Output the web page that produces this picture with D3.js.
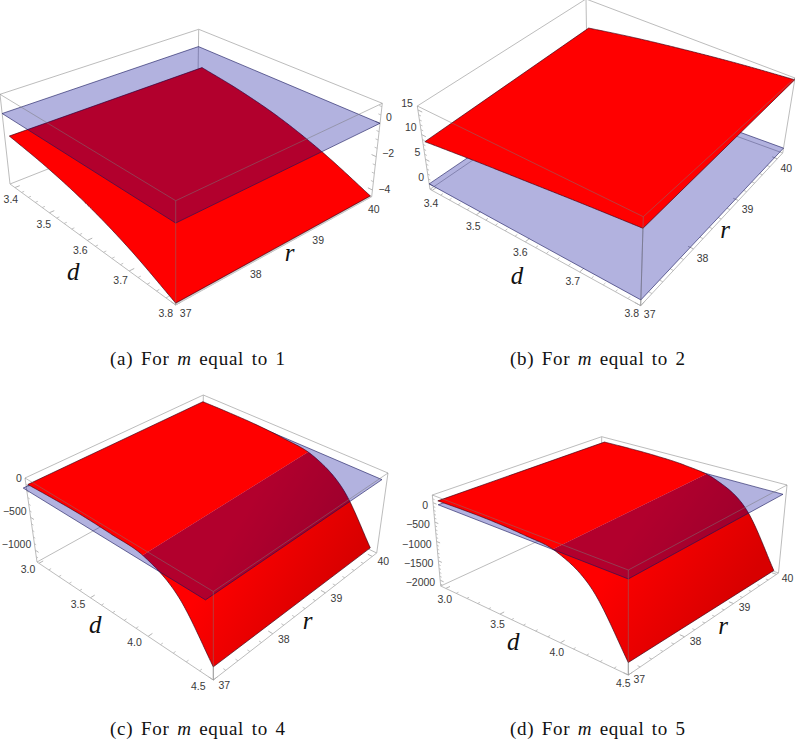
<!DOCTYPE html>
<html>
<head>
<meta charset="utf-8">
<script src="https://cdn.jsdelivr.net/npm/d3@7"></script>
<style>
  html, body { margin: 0; padding: 0; background: #fff; }
  svg { display: block; }
</style>
</head>
<body>
<div id="chart"></div>
<script>
const width = 795;
const height = 740;

// surface heights, z at each d along the two r edges
const dSamplesA = [3.4, 3.5, 3.6, 3.7, 3.8];
const zA37 = [-1.2, -1.6, -2.2, -3.1, -4.3];
const zA40 = [-1.25, -1.65, -2.25, -3.15, -4.3];
const dTicksA = [3.4, 3.5, 3.6, 3.7, 3.8];
const zTicksA = [0, -2, -4];

const dSamplesB = [3.4, 3.5, 3.6, 3.7, 3.8];
const zB37 = [8.8, 10.1, 11.3, 12.5, 13.6];
const zB40 = [10.05, 11.6, 13, 14.3, 15.4];
const dTicksB = [3.4, 3.5, 3.6, 3.7, 3.8];
const zTicksB = [0, 5, 10, 15];

const dSamplesC = [3, 3.25, 3.5, 3.75, 4, 4.25, 4.5];
const zC37 = [20, 40, 50, 35, 0, -280, -990];
const zC40 = [20, 40, 50, 35, -25, -320, -1000];
const dTicksC = [3, 3.5, 4, 4.5];
const zTicksC = [0, -500, -1000];

const dSamplesD = [3, 3.25, 3.5, 3.75, 4, 4.25, 4.5];
const zD37 = [100, 120, 120, 80, -20, -550, -1870];
const zD40 = [100, 120, 120, 80, -70, -610, -1990];
const dTicksD = [3, 3.5, 4, 4.5];
const zTicksD = [0, -500, -1000, -1500, -2000];

const rTicks = [37, 38, 39, 40];

const captions = [
  ['(a) For ', 'm', ' equal to 1'],
  ['(b) For ', 'm', ' equal to 2'],
  ['(c) For ', 'm', ' equal to 4'],
  ['(d) For ', 'm', ' equal to 5']
];

// layout of each panel: box corners on the page, L/B/R/F = left/back/right/front
// rEdge: where the r = 37 edge sits, then the r = 40 edge at its back and its front end
const panels = [
  {
    ds: dSamplesA, z37: zA37, z40: zA40, dTicks: dTicksA, zTicks: zTicksA, caption: captions[0],
    top: { L: [0, 94.3], B: [198.7, 29.3], R: [382.3, 103.3], F: [175.7, 200.7] },
    bot: { L: [10, 184], B: [197.5, 110], R: [371.7, 196.7], F: [175.7, 305] },
    dDomain: [3.385, 3.8], rDomain: [37, 40.15], zDomain: [-4.4, 1.2], rEdge: [37, 40.12, 40.12],
    plane: { d: [3.385, 3.8], r: [37, 40.15] }, underside: '#cfcfcf',
    dMinor: 0.02, rMinor: 0.2, zMinor: 0.5, zSide: 'right',
    dOff: [[-4, 13], [-10, 9]], rOff: [10, 9], zDx: 6, zDy: [-7, 1],
    dLabel: [-11, 42], rLabel: [7, 15], captionX: 110, captionY: 365
  },
  {
    ds: dSamplesB, z37: zB37, z40: zB40, dTicks: dTicksB, zTicks: zTicksB, caption: captions[1],
    top: { L: [417.3, 106], B: [586, -1], R: [795, 78], F: [643.3, 216.7] },
    bot: { L: [430, 189.3], B: [587.3, 82], R: [782.7, 153], F: [640.7, 305.7] },
    dDomain: [3.395, 3.8], rDomain: [37, 40.15], zDomain: [-1.1, 15.8], rEdge: [37, 40.15, 40.15],
    plane: { d: [3.395, 3.8], r: [37, 40.15] },
    dMinor: 0.02, rMinor: 0.2, zMinor: 1, zSide: 'left',
    dOff: [[-1, 14], [-9, 9]], rOff: [9, 10], zDx: -5, zDy: [-6, -6],
    dLabel: [-7, 43], rLabel: [5, 18], captionX: 510, captionY: 365
  },
  {
    ds: dSamplesC, z37: zC37, z40: zC40, dTicks: dTicksC, zTicks: zTicksC, caption: captions[2],
    top: { L: [25, 478], B: [203.3, 395], R: [388, 473], F: [213.3, 591.5] },
    bot: { L: [37, 562], B: [203, 470], R: [376.7, 553], F: [213.3, 680] },
    dDomain: [2.98, 4.5], rDomain: [37, 40.1], zDomain: [-1180, 100], rEdge: [37, 40.05, 39.92],
    plane: { d: [3, 4.48], r: [36.93, 40.05] },
    dMinor: 0.1, rMinor: 0.2, zMinor: 100, zSide: 'left',
    dOff: [[-11, 7], [-15, 7]], rOff: [11, 6], zDx: -4, zDy: [-5, -5],
    dLabel: [-22, 17], rLabel: [5, 18], captionX: 110, captionY: 735,
    shade: [[200, 590], [300, 650]]
  },
  {
    ds: dSamplesD, z37: zD37, z40: zD40, dTicks: dTicksD, zTicks: zTicksD, caption: captions[3],
    top: { L: [432.3, 495], B: [601.7, 436.7], R: [787, 485], F: [628.3, 570] },
    bot: { L: [440.7, 586], B: [601, 512], R: [778.5, 573], F: [628.3, 675] },
    dDomain: [2.95, 4.5], rDomain: [37, 40.05], zDomain: [-2150, 200], rEdge: [37, 40, 39.92],
    plane: { d: [3, 4.5], r: [37, 39.97] },
    dMinor: 0.1, rMinor: 0.2, zMinor: 100, zSide: 'left',
    dOff: [[-1, 12], [-5, 9]], rOff: [11, 5], zDx: -5, zDy: [3.5, 3.5],
    dLabel: [-13, 23], rLabel: [12, 15], captionX: 510, captionY: 735,
    shade: [[600, 580], [700, 650]]
  }
];

const boxColor = '#b4b4b4';
const overColor = 'rgba(120,120,120,0.55)';
const redColor = '#ff0000';
const edgeColor = 'rgba(60,0,20,0.75)';
const planeFill = 'rgb(0,0,150)';
const planeOpacity = 0.3;
const labelColor = '#3a3a3a';

const svg = d3.select('#chart').append('svg')
  .attr('width', width)
  .attr('height', height)
  .attr('viewBox', `0 0 ${width} ${height}`);
const defs = svg.append('defs');

const lineGen = d3.line();

// unit square to quad, (0,0)=L (1,0)=F (1,1)=R (0,1)=B
function quadMap(q) {
  const [x0, y0] = q.L, [x1, y1] = q.F, [x2, y2] = q.R, [x3, y3] = q.B;
  const dx1 = x1 - x2, dx2 = x3 - x2, sx = x0 - x1 + x2 - x3;
  const dy1 = y1 - y2, dy2 = y3 - y2, sy = y0 - y1 + y2 - y3;
  const det = dx1 * dy2 - dx2 * dy1;
  const g = (sx * dy2 - dx2 * sy) / det;
  const h = (dx1 * sy - sx * dy1) / det;
  const a = x1 - x0 + g * x1, b = x3 - x0 + h * x3;
  const d = y1 - y0 + g * y1, e = y3 - y0 + h * y3;
  return (u, v) => {
    const w = g * u + h * v + 1;
    return [(a * u + b * v + x0) / w, (d * u + e * v + y0) / w];
  };
}

// smooth curve through the read values, only used to draw the edge
function curveThrough(ds, zs) {
  const toIndex = d3.scaleLinear().domain([ds[0], ds[ds.length - 1]]).range([0, ds.length - 1]);
  const n = zs.length;
  return d => {
    const t = toIndex(d);
    const i = Math.min(Math.floor(t), n - 2);
    const f = t - i;
    const p1 = zs[i], p2 = zs[i + 1];
    const p0 = i > 0 ? zs[i - 1] : 2 * p1 - p2;
    const p3 = i < n - 2 ? zs[i + 2] : 2 * p2 - p1;
    return 0.5 * (2 * p1 + (p2 - p0) * f + (2 * p0 - 5 * p1 + 4 * p2 - p3) * f * f + (3 * p1 - p0 - 3 * p2 + p3) * f * f * f);
  };
}

panels.forEach((p, idx) => {
  const g = svg.append('g').attr('class', `panel-${idx}`);
  const dScale = d3.scaleLinear().domain(p.dDomain).range([0, 1]);
  const rScale = d3.scaleLinear().domain(p.rDomain).range([0, 1]);
  const zScale = d3.scaleLinear().domain(p.zDomain).range([0, 1]);
  const topMap = quadMap(p.top);
  const botMap = quadMap(p.bot);

  const project = (d, r, z) => {
    const a = botMap(dScale(d), rScale(r));
    const b = topMap(dScale(d), rScale(r));
    const t = zScale(z);
    return [a[0] + (b[0] - a[0]) * t, a[1] + (b[1] - a[1]) * t];
  };

  const [d0, d1] = p.dDomain;
  const [r0, r1] = p.rDomain;
  const [zLo, zHi] = p.zDomain;

  const drawEdge = (pts, color, w = 0.9) => g.append('path')
    .attr('d', lineGen(pts))
    .attr('fill', 'none')
    .attr('stroke', color)
    .attr('stroke-width', w);

  // box edges behind the surfaces
  [
    [[d0, r0, zLo], [d1, r0, zLo]], [[d1, r0, zLo], [d1, r1, zLo]],
    [[d1, r1, zLo], [d0, r1, zLo]], [[d0, r1, zLo], [d0, r0, zLo]],
    [[d0, r0, zLo], [d0, r0, zHi]], [[d0, r1, zLo], [d0, r1, zHi]],
    [[d1, r1, zLo], [d1, r1, zHi]], [[d1, r0, zLo], [d1, r0, zHi]],
    [[d0, r0, zHi], [d0, r1, zHi]], [[d0, r1, zHi], [d1, r1, zHi]]
  ].forEach(e => drawEdge(e.map(c => project(...c)), boxColor));

  // ticks
  const tickLine = (from, to, major) => drawEdge([project(...from), project(...to)], boxColor, major ? 1 : 0.8);
  const dTickAll = d3.range(p.dTicks[0], d1 + 1e-6, p.dMinor);
  dTickAll.forEach(d => {
    const major = p.dTicks.some(t => Math.abs(t - d) < 1e-6);
    const len = (r1 - r0) * (major ? 0.022 : 0.012);
    tickLine([d, r0, zLo], [d, r0 + len, zLo], major);
  });
  d3.range(rTicks[0], r1 + 1e-6, p.rMinor).forEach(r => {
    const major = rTicks.some(t => Math.abs(t - r) < 1e-6);
    const len = (d1 - d0) * (major ? 0.022 : 0.012);
    tickLine([d1, r, zLo], [d1 - len, r, zLo], major);
  });
  const zCorner = p.zSide === 'right' ? [d1, r1] : [d0, r0];
  const zInward = p.zSide === 'right' ? -1 : 1;
  d3.range(Math.ceil(zLo / p.zMinor) * p.zMinor, zHi, p.zMinor).forEach(z => {
    const major = p.zTicks.some(t => Math.abs(t - z) < 1e-6);
    const len = (d1 - d0) * (major ? 0.022 : 0.012) * zInward;
    tickLine([zCorner[0], zCorner[1], z], [zCorner[0] + len, zCorner[1], z], major);
  });

  // surface sampled along both r edges, split where it passes through the plane
  const curve37 = curveThrough(p.ds, p.z37);
  const curve40 = curveThrough(p.ds, p.z40);
  const dFirst = p.ds[0], dLast = p.ds[p.ds.length - 1];
  const dLine = d3.range(0, 161).map(i => dFirst + (dLast - dFirst) * i / 160);
  const sideA = dLine.map(d => ({ d, z: curve37(d) }));
  const sideB = dLine.map(d => ({ d, z: curve40(d) }));
  // lower part keeps one extra sample so no seam opens under the upper part
  const lowerOf = side => side.filter((s, i) => s.z < 0 || (side[i + 1] && side[i + 1].z < 0));
  const belowA = lowerOf(sideA), belowB = lowerOf(sideB);
  const aboveA = sideA.filter(s => s.z >= 0), aboveB = sideB.filter(s => s.z >= 0);
  const rFar = d3.scaleLinear().domain([dFirst, dLast]).range([p.rEdge[1], p.rEdge[2]]);

  const piece = (a, b, fill, closed) => {
    if (!a.length) return;
    const pa = a.map(s => project(s.d, p.rEdge[0], s.z));
    const pb = b.map(s => project(s.d, rFar(s.d), s.z)).reverse();
    g.append('path')
      .attr('d', lineGen(pa.concat(pb)) + 'Z')
      .attr('fill', fill);
    const outline = a[0].d === dFirst && !closed ? pa.slice().reverse().concat(pb.slice().reverse()) : pa.concat(pb);
    drawEdge(closed ? pa.concat(pb).concat([pa[0]]) : outline, edgeColor, 0.9);
  };

  // sliver of the underside showing along the bottom of the box
  if (p.underside) {
    const endA = sideA[sideA.length - 1], endB = sideB[sideB.length - 1];
    g.append('path')
      .attr('d', lineGen([
        project(endA.d, p.rEdge[0], endA.z),
        project(endB.d, p.rEdge[2], endB.z),
        project(d1, r1, zLo),
        project(d1, r0, zLo)
      ]) + 'Z')
      .attr('fill', p.underside);
  }

  let lowerFill = redColor;
  if (p.shade) {
    const id = `shade-${idx}`;
    const grad = defs.append('linearGradient').attr('id', id)
      .attr('gradientUnits', 'userSpaceOnUse')
      .attr('x1', p.shade[0][0]).attr('y1', p.shade[0][1])
      .attr('x2', p.shade[1][0]).attr('y2', p.shade[1][1]);
    grad.append('stop').attr('offset', '0%').attr('stop-color', '#ff0000');
    grad.append('stop').attr('offset', '100%').attr('stop-color', '#d80000');
    lowerFill = `url(#${id})`;
  }

  piece(belowA, belowB, lowerFill, !aboveA.length);

  // the z = 0 plane
  const planePts = [
    project(p.plane.d[0], p.plane.r[0], 0),
    project(p.plane.d[1], p.plane.r[0], 0),
    project(p.plane.d[1], p.plane.r[1], 0),
    project(p.plane.d[0], p.plane.r[1], 0)
  ];
  g.append('path')
    .attr('d', lineGen(planePts) + 'Z')
    .attr('fill', planeFill)
    .attr('fill-opacity', planeOpacity)
    .attr('stroke', 'rgba(20,20,90,0.75)')
    .attr('stroke-width', 0.8);

  piece(aboveA, aboveB, redColor, !belowA.length);

  // front box edges run over everything
  [
    [[d0, r0, zHi], [d1, r0, zHi]],
    [[d1, r0, zHi], [d1, r1, zHi]],
    [[d1, r0, zLo], [d1, r0, zHi]]
  ].forEach(e => drawEdge(e.map(c => project(...c)), overColor));

  // tick labels
  const label = (x, y, txt, anchor = 'middle') => g.append('text')
    .attr('x', x).attr('y', y)
    .attr('text-anchor', anchor)
    .attr('dominant-baseline', 'middle')
    .attr('font-family', '"Liberation Sans", sans-serif')
    .attr('font-size', 10.5)
    .attr('fill', labelColor)
    .text(txt);

  const dFmt = d3.format('.1f');
  const dOffAt = d3.scaleLinear().domain([p.dTicks[0], p.dTicks[p.dTicks.length - 1]]).range([0, 1]);
  p.dTicks.forEach(d => {
    const [x, y] = project(d, r0, zLo);
    const off = d3.interpolateArray(p.dOff[0], p.dOff[1])(dOffAt(d));
    label(x + off[0], y + off[1], dFmt(d));
  });
  rTicks.forEach(r => {
    const [x, y] = project(d1, r, zLo);
    label(x + p.rOff[0], y + p.rOff[1], r);
  });
  const zDy = d3.scaleLinear().domain(p.zDomain).range([p.zDy[1], p.zDy[0]]);
  p.zTicks.forEach(z => {
    const [x, y] = project(zCorner[0], zCorner[1], z);
    label(x + p.zDx, y + zDy(z), String(z).replace('-', '\u2212'), p.zSide === 'right' ? 'start' : 'end');
  });

  // axis names
  const axisName = (pos, off, txt) => g.append('text')
    .attr('x', pos[0] + off[0]).attr('y', pos[1] + off[1])
    .attr('text-anchor', 'middle')
    .attr('font-family', '"Liberation Serif", serif')
    .attr('font-style', 'italic')
    .attr('font-size', 25)
    .attr('fill', '#111')
    .text(txt);
  axisName(project((d0 + d1) / 2, r0, zLo), p.dLabel, 'd');
  axisName(project(d1, (r0 + r1) / 2, zLo), p.rLabel, 'r');

  // caption
  const cap = g.append('text')
    .attr('x', p.captionX).attr('y', p.captionY)
    .attr('font-family', '"Liberation Serif", serif')
    .attr('font-size', 19)
    .attr('fill', '#111')
    .attr('word-spacing', 2)
    .attr('textLength', 175)
    .attr('lengthAdjust', 'spacing')
    .attr('xml:space', 'preserve');
  cap.append('tspan').text(p.caption[0]);
  cap.append('tspan').attr('font-style', 'italic').text(p.caption[1]);
  cap.append('tspan').text(p.caption[2]);
});
</script>
</body>
</html>
